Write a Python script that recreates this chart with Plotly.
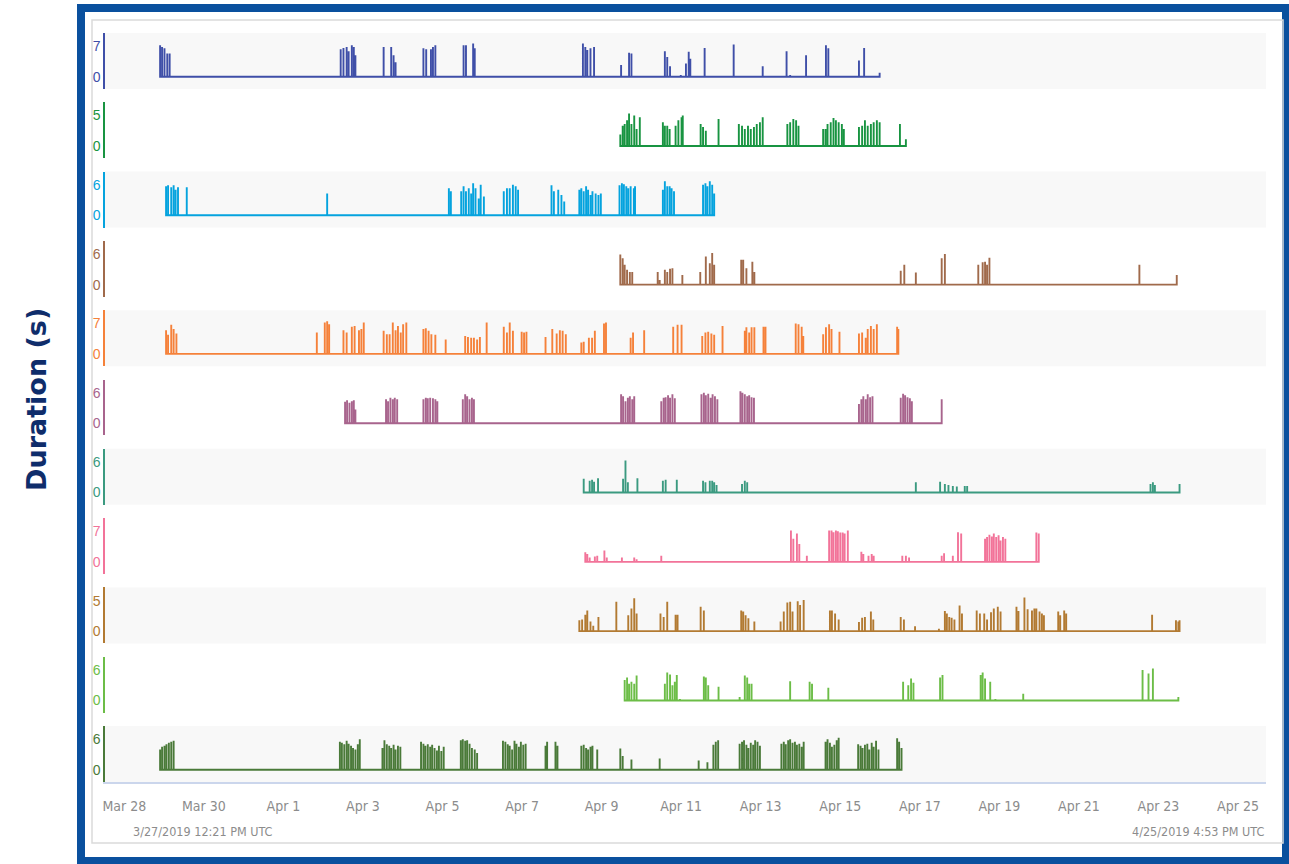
import pandas as pd
import plotly.graph_objects as go
from plotly.subplots import make_subplots

# time axis: spike times are in days after 2019-03-28 00:00 UTC
ORIGIN = "2019-03-28"
RANGE_START = "2019-03-27 12:21"
RANGE_END = "2019-04-25 16:53"
START_LABEL = "3/27/2019 12:21 PM UTC"
END_LABEL = "4/25/2019 4:53 PM UTC"

colors = ["#3f4fa8", "#189441", "#05a3de", "#a06a4b", "#f5813a", "#a8648d",
          "#3b9a80", "#f27399", "#b27a32", "#6cbd47", "#4a7a39"]
tick_max = [7, 5, 6, 6, 7, 6, 6, 7, 5, 6, 6]

s1_days = [0.90, 0.95, 1.01, 1.08, 1.14, 5.44, 5.51, 5.59, 5.64, 5.72, 5.77, 5.81,
           6.52, 6.71, 6.77, 6.82, 7.52, 7.59, 7.71, 7.76, 7.82, 8.53, 8.59, 8.77, 8.81,
           11.53, 11.59, 11.64, 11.72, 11.81, 12.49, 12.69, 12.75, 13.59, 13.65, 13.72,
           13.99, 14.12, 14.19, 14.23, 14.59, 15.32, 16.05, 16.65, 16.74, 17.14,
           17.64, 17.70, 18.47, 18.60, 18.99]
s1_vals = [7.2, 6.8, 6.5, 5.3, 5.3, 6.3, 6.6, 6.8, 5.8, 7.2, 6.8, 4.9,
           6.8, 6.8, 4.9, 3.3, 6.5, 6.3, 6.3, 6.8, 7.2, 7.2, 7.2, 7.6, 6.5,
           7.6, 6.8, 6.1, 6.5, 6.8, 2.7, 5.5, 5.3, 5.8, 4.5, 2.4,
           0.4, 3.0, 5.7, 4.1, 6.6, 7.4, 2.4, 5.8, 0.4, 4.9,
           7.2, 6.5, 3.7, 6.6, 0.9]

s2_days = [12.47, 12.53, 12.58, 12.64, 12.69, 12.75, 12.82, 12.88, 12.96,
           13.54, 13.59, 13.65, 13.71, 13.86, 13.93, 14.01, 14.04, 14.49, 14.55, 14.62,
           14.94, 15.45, 15.53, 15.60, 15.68, 15.75, 15.83, 15.90, 15.98, 16.05,
           16.67, 16.74, 16.82, 16.89, 16.95,
           17.57, 17.63, 17.68, 17.76, 17.83, 17.89, 17.96, 18.04, 18.09,
           18.47, 18.55, 18.62, 18.69, 18.77, 18.84, 18.92, 18.99, 19.50, 19.65]
s2_vals = [1.9, 3.3, 3.6, 4.2, 5.3, 3.6, 5.0, 2.8, 4.7,
           3.9, 3.3, 3.3, 2.8, 3.3, 4.2, 4.7, 5.0, 3.6, 3.1, 2.5,
           4.4, 3.6, 3.3, 2.8, 3.3, 2.8, 3.1, 3.6, 3.9, 4.7,
           3.6, 3.9, 4.4, 4.2, 3.3,
           2.8, 2.8, 3.6, 3.9, 4.6, 4.2, 3.9, 3.6, 2.8,
           3.1, 3.3, 4.2, 3.3, 3.6, 3.9, 4.2, 3.9, 3.6, 1.1]

s3_days = [1.05, 1.10, 1.18, 1.24, 1.29, 1.35, 1.57, 5.10, 8.16, 8.21,
           8.47, 8.53, 8.59, 8.66, 8.72, 8.77, 8.83, 8.91, 8.96, 9.04,
           9.54, 9.62, 9.69, 9.77, 9.84, 9.90, 10.74, 10.80, 10.91, 10.99, 11.06,
           11.44, 11.49, 11.55, 11.61, 11.66, 11.72, 11.77, 11.85, 11.92, 11.98,
           12.45, 12.51, 12.56, 12.62, 12.67, 12.73, 12.81, 12.84,
           13.54, 13.59, 13.65, 13.71, 13.76, 13.82,
           14.55, 14.61, 14.66, 14.72, 14.78, 14.83]
s3_vals = [5.7, 5.9, 5.5, 5.9, 5.0, 5.5, 5.5, 4.3, 5.3, 4.7,
           4.7, 5.7, 4.7, 5.3, 4.3, 6.3, 5.3, 3.3, 6.0, 3.7,
           4.7, 5.3, 5.3, 6.0, 5.7, 5.0, 5.9, 4.7, 5.0, 4.0, 2.7,
           5.0, 5.3, 4.7, 5.7, 5.0, 4.0, 4.7, 4.3, 4.0, 4.3,
           5.9, 6.3, 6.1, 5.7, 5.3, 5.7, 5.3, 5.7,
           5.0, 6.7, 5.7, 5.7, 5.3, 4.7,
           6.0, 6.3, 5.7, 6.7, 6.0, 4.3]

s4_days = [12.47, 12.53, 12.58, 12.64, 12.71, 12.77, 13.41, 13.46, 13.59, 13.65, 13.72, 13.78,
           14.03, 14.48, 14.62, 14.72, 14.78, 14.83, 15.51, 15.56, 15.64, 15.79, 15.84,
           19.52, 19.61, 19.90, 20.55, 20.63, 21.47, 21.58, 21.64, 21.69, 21.75,
           25.52, 26.46]
s4_vals = [5.9, 5.2, 3.9, 2.9, 2.5, 2.5, 2.5, 0.9, 2.9, 2.5, 3.1, 3.2,
           1.9, 2.5, 5.5, 4.2, 6.2, 3.9, 4.9, 4.9, 3.2, 4.5, 2.5,
           2.7, 3.9, 2.4, 5.2, 6.0, 3.9, 4.4, 4.5, 3.9, 5.3,
           3.9, 1.9]

s5_days = [1.05, 1.10, 1.18, 1.24, 1.31, 4.84, 5.04, 5.10, 5.15, 5.51, 5.59, 5.72, 5.79,
           5.90, 5.96, 6.02, 6.52, 6.60, 6.67, 6.75, 6.82, 6.88, 6.95, 7.01, 7.09,
           7.52, 7.58, 7.65, 7.72, 7.82, 8.08, 8.57, 8.64, 8.72, 8.79, 8.87, 8.94, 9.11,
           9.54, 9.62, 9.69, 9.77, 9.99, 10.05, 10.11, 10.59, 10.76,
           10.87, 10.95, 11.02, 11.10, 11.49, 11.55, 11.68, 11.76, 11.83, 12.06, 12.11,
           12.73, 12.79, 13.07, 13.80, 13.91, 14.01, 14.53, 14.61, 14.68, 14.76, 14.83,
           15.04, 15.60, 15.64, 15.71, 15.77, 15.84, 16.07, 16.12,
           16.88, 16.95, 17.03, 17.07, 17.57, 17.64, 17.72, 17.78, 17.98,
           18.47, 18.55, 18.64, 18.69, 18.77, 18.84, 18.92, 19.43, 19.46]
s5_vals = [5.4, 4.4, 6.7, 5.7, 4.7, 4.9, 7.2, 7.5, 6.8, 5.4, 4.9, 6.2, 6.4,
           5.4, 5.7, 7.2, 5.3, 4.5, 4.5, 7.2, 5.4, 6.4, 4.9, 6.8, 7.2,
           5.7, 5.9, 5.3, 4.5, 4.4, 3.3, 4.1, 3.9, 3.7, 3.7, 3.3, 3.9, 7.2,
           6.2, 4.9, 7.2, 5.3, 5.1, 4.9, 5.1, 3.9, 5.7,
           4.7, 5.4, 5.3, 4.5, 2.6, 2.8, 3.7, 3.7, 5.3, 7.0, 7.2,
           3.7, 4.9, 5.4, 6.2, 6.7, 6.7, 4.1, 4.9, 5.1, 4.7, 4.4,
           6.4, 5.3, 6.1, 4.9, 6.1, 6.1, 6.2, 6.2,
           7.0, 6.8, 6.2, 4.1, 4.5, 6.1, 6.8, 5.7, 5.1,
           4.7, 4.9, 3.7, 5.7, 6.4, 5.7, 6.8, 6.2, 5.7]

s6_days = [5.55, 5.60, 5.66, 5.72, 5.77, 5.81, 6.58, 6.63, 6.69, 6.75, 6.80, 6.86,
           7.52, 7.58, 7.63, 7.69, 7.76, 7.82, 7.87, 8.51, 8.57, 8.62, 8.68, 8.74, 8.79,
           12.49, 12.54, 12.60, 12.66, 12.71, 12.77, 12.82,
           13.50, 13.56, 13.61, 13.67, 13.72, 13.78, 13.84,
           14.51, 14.57, 14.62, 14.68, 14.74, 14.79, 14.85, 14.91,
           15.49, 15.54, 15.60, 15.66, 15.71, 15.77, 15.83,
           18.47, 18.53, 18.58, 18.64, 18.69, 18.75, 18.81,
           19.52, 19.58, 19.63, 19.69, 19.75, 19.80, 20.55]
s6_vals = [4.2, 4.5, 4.0, 4.3, 4.5, 2.7, 4.7, 4.3, 5.0, 4.7, 5.0, 4.7,
           4.7, 5.0, 4.9, 5.0, 4.9, 4.7, 4.3, 4.7, 5.7, 5.3, 4.7, 5.0, 4.7,
           5.7, 5.3, 4.3, 5.0, 5.3, 4.7, 5.3,
           4.3, 5.0, 5.1, 5.5, 5.0, 5.7, 4.9,
           5.7, 6.0, 5.5, 5.8, 5.0, 5.7, 5.3, 4.7,
           6.3, 6.0, 5.7, 5.3, 5.5, 5.1, 5.0,
           3.8, 4.7, 5.3, 4.7, 5.7, 5.1, 5.3,
           5.0, 5.8, 5.5, 5.1, 4.9, 4.3, 4.7]

s7_days = [11.55, 11.70, 11.76, 11.81, 11.91, 12.54, 12.60, 12.66, 12.90, 13.54, 13.61,
           13.89, 14.55, 14.61, 14.72, 14.78, 14.83, 14.89, 15.53, 15.60, 15.66, 19.90,
           20.51, 20.63, 20.72, 20.83, 20.93, 21.13, 21.19, 25.80, 25.86, 25.91, 26.53]
s7_vals = [2.7, 2.3, 2.5, 2.1, 2.8, 2.7, 6.3, 2.0, 2.8, 2.3, 2.5,
           2.5, 2.3, 2.0, 2.3, 2.3, 2.0, 1.5, 1.7, 2.3, 2.0, 2.0,
           2.1, 1.7, 1.5, 1.3, 1.2, 1.3, 1.3, 1.7, 2.0, 1.5, 1.7]

s8_days = [11.59, 11.64, 11.70, 11.83, 11.89, 12.07, 12.13, 12.51, 12.82, 12.88, 13.50,
           16.76, 16.82, 16.91, 16.97, 17.16,
           17.72, 17.78, 17.83, 17.89, 17.94, 18.00, 18.06, 18.11, 18.19,
           18.53, 18.58, 18.71, 18.79, 18.84, 19.56, 19.65, 19.73, 20.55, 20.61, 20.83,
           20.96, 21.04, 21.64, 21.69, 21.75, 21.81, 21.86, 21.92, 21.98, 22.03, 22.09, 22.15,
           22.93, 22.99]
s8_vals = [2.2, 1.8, 1.0, 1.2, 1.4, 2.6, 1.0, 1.0, 1.0, 0.6, 1.4,
           7.2, 5.3, 6.5, 4.1, 1.4,
           7.2, 7.2, 6.8, 7.2, 7.0, 6.7, 6.7, 6.5, 7.2,
           2.3, 1.8, 1.4, 1.8, 1.4, 1.4, 1.4, 1.0, 1.4, 2.0, 1.4,
           6.8, 6.5, 5.3, 5.7, 6.2, 5.8, 6.5, 5.7, 6.1, 4.9, 5.7, 5.3,
           6.7, 6.5]

s9_days = [11.44, 11.51, 11.59, 11.64, 11.72, 11.79, 11.92, 12.37, 12.67, 12.75, 12.82, 12.88,
           13.48, 13.56, 13.65, 13.86, 13.91, 14.49, 14.57, 15.51, 15.56, 15.62, 15.69, 15.84,
           16.50, 16.58, 16.67, 16.74, 16.80, 16.93, 16.99, 17.08, 17.74, 17.79, 17.87, 17.96,
           18.47, 18.55, 18.62, 18.77, 18.83, 19.52, 19.60, 19.88, 20.48,
           20.63, 20.68, 20.74, 20.80, 20.87, 21.00, 21.06, 21.43, 21.51, 21.62, 21.69,
           21.79, 21.86, 21.96, 22.03, 22.43, 22.48, 22.63, 22.71,
           22.82, 22.88, 22.93, 23.01, 23.07, 23.12, 23.48, 23.53, 23.63, 23.68,
           25.84, 26.44, 26.50, 26.53]
s9_vals = [1.8, 1.9, 2.7, 3.4, 1.6, 0.9, 2.3, 4.8, 2.6, 3.7, 5.4, 2.9,
           2.9, 2.3, 4.8, 2.7, 2.7, 4.0, 3.4, 3.4, 3.2, 2.6, 2.1, 1.6,
           1.6, 3.2, 4.7, 4.8, 3.2, 4.9, 4.3, 5.1, 3.4, 3.4, 2.9, 1.9,
           1.5, 2.2, 2.3, 3.2, 1.9, 2.3, 1.9, 0.8, 0.4,
           3.3, 2.9, 2.3, 2.2, 1.9, 4.2, 2.9, 3.4, 2.9, 2.9, 1.9,
           3.1, 3.7, 4.0, 3.2, 4.0, 3.3, 5.5, 3.6,
           3.4, 3.7, 3.7, 3.2, 2.9, 2.6, 3.2, 2.6, 3.4, 2.9,
           2.7, 1.8, 1.6, 1.8]

s10_days = [12.58, 12.64, 12.69, 12.75, 12.82, 12.88, 13.59, 13.65, 13.72, 13.78, 13.84, 13.89,
            13.97, 14.57, 14.62, 14.68, 14.94, 15.47, 15.60, 15.66, 15.71, 15.77,
            16.74, 17.10, 17.23, 17.29, 17.70, 18.77, 19.58, 19.71, 19.78, 19.84,
            20.51, 20.57, 21.53, 21.58, 21.64, 21.77, 21.90, 22.60, 25.60, 25.75, 25.86, 26.50]
s10_vals = [4.0, 4.5, 3.3, 3.7, 3.3, 4.9, 3.3, 5.5, 5.1, 3.0, 3.7, 5.0,
            0.3, 4.7, 4.5, 3.0, 2.7, 0.7, 4.9, 4.5, 3.3, 3.3,
            3.8, 0.2, 3.7, 3.3, 2.5, 0.2, 3.7, 3.0, 4.3, 3.5,
            4.5, 5.0, 5.0, 5.5, 4.3, 3.7, 0.3, 1.3, 6.0, 5.3, 6.3, 0.7]

s11_days = [0.90, 0.95, 1.01, 1.06, 1.12, 1.18, 1.24,
            5.42, 5.47, 5.53, 5.59, 5.64, 5.70, 5.75, 5.81, 5.87, 5.92,
            6.49, 6.54, 6.60, 6.66, 6.71, 6.77, 6.82, 6.88, 6.94,
            7.46, 7.52, 7.57, 7.63, 7.69, 7.74, 7.80, 7.86, 7.91, 7.97, 8.03,
            8.46, 8.51, 8.57, 8.62, 8.68, 8.74, 8.81, 8.87,
            9.52, 9.58, 9.64, 9.69, 9.75, 9.81, 9.86, 9.92, 9.97, 10.03, 10.09,
            10.59, 10.63, 10.84, 10.89, 11.49, 11.55, 11.61, 11.66, 11.72, 11.77, 11.89,
            12.47, 12.53, 12.75, 13.46, 14.44, 14.66, 14.81, 14.87, 14.93,
            15.47, 15.53, 15.58, 15.64, 15.69, 15.75, 15.81, 15.86, 15.92, 15.98,
            16.52, 16.58, 16.63, 16.69, 16.74, 16.80, 16.86, 16.91, 16.97, 17.03, 17.08,
            17.63, 17.68, 17.74, 17.79, 17.85, 17.91, 17.96,
            18.45, 18.51, 18.56, 18.62, 18.68, 18.73, 18.79, 18.84, 18.90, 18.96,
            19.43, 19.48, 19.54]
s11_vals = [4.0, 4.5, 4.7, 5.0, 5.3, 5.5, 5.7,
            5.5, 5.3, 5.0, 5.7, 5.1, 4.7, 4.3, 4.0, 5.0, 6.0,
            4.3, 5.8, 5.0, 4.7, 4.3, 4.9, 4.0, 4.7, 4.5,
            5.5, 5.1, 4.7, 5.0, 4.5, 4.9, 4.3, 3.8, 4.7, 3.7, 4.5,
            5.8, 6.0, 5.7, 5.8, 5.1, 4.3, 4.0, 3.3,
            5.7, 5.5, 5.0, 4.7, 4.0, 5.7, 5.1, 4.5, 5.5, 4.9, 5.1,
            4.7, 5.5, 5.5, 4.7, 4.7, 4.9, 4.3, 4.0, 4.5, 4.7, 4.0,
            4.2, 2.7, 2.0, 2.2, 1.8, 1.5, 4.9, 5.5, 5.8,
            5.1, 5.5, 5.8, 4.9, 4.3, 5.3, 4.9, 5.8, 5.5, 4.7,
            5.1, 5.5, 5.0, 5.8, 6.0, 5.3, 5.5, 4.9, 5.1, 4.5, 5.5,
            5.5, 6.0, 5.3, 4.5, 4.9, 5.8, 6.3,
            5.0, 4.7, 4.3, 4.9, 5.1, 4.0, 5.3, 4.5, 5.7, 4.0,
            6.2, 5.5, 4.3]

series = [(s1_days, s1_vals), (s2_days, s2_vals), (s3_days, s3_vals), (s4_days, s4_vals),
          (s5_days, s5_vals), (s6_days, s6_vals), (s7_days, s7_vals), (s8_days, s8_vals),
          (s9_days, s9_vals), (s10_days, s10_vals), (s11_days, s11_vals)]

# plot area in pixels (page 1289 x 864)
L, R, T, B = 105, 1266, 33, 782
W, H = R - L, B - T
def px(x): return (x - L) / W
def py(y): return (B - y) / H

n = len(series)
fig = make_subplots(rows=n, cols=1, shared_xaxes=True, vertical_spacing=0.0179)

origin = pd.Timestamp(ORIGIN)
tick_font = "Liberation Sans Narrow, DejaVu Sans Condensed, Arial, sans-serif"
for i, (days, vals) in enumerate(series):
    r = i + 1
    # each duration is drawn as a spike rising from a zero baseline
    xs, ys = [], []
    for d, v in zip(days, vals):
        t = origin + pd.to_timedelta(d, unit="D")
        xs += [t, t, t]
        ys += [0, v, 0]
    fig.add_trace(go.Scatter(x=xs, y=ys, mode="lines", line=dict(color=colors[i], width=1.9),
                             showlegend=False, hoverinfo="skip"), row=r, col=1)
    m = tick_max[i]
    fig.update_yaxes(range=[-0.4 * m, 1.43 * m], tickvals=[0, m], ticktext=["0", str(m)],
                     tickfont=dict(color=colors[i], size=14, family="Liberation Sans, Arial, sans-serif"),
                     showgrid=False, zeroline=False, showline=True, linecolor=colors[i],
                     linewidth=1.5, ticks="", fixedrange=True, row=r, col=1)
    if r % 2 == 1:
        suffix = "" if r == 1 else str(r)
        fig.add_shape(type="rect", xref=f"x{suffix} domain", yref=f"y{suffix} domain",
                      x0=0, x1=1, y0=0, y1=1, fillcolor="#f8f8f8", line_width=0, layer="below")

fig.update_xaxes(range=[RANGE_START, RANGE_END], showgrid=False, zeroline=False,
                 showline=False, showticklabels=False)
fig.update_xaxes(showline=True, linecolor="#cbd6ec", linewidth=1.5, showticklabels=True,
                 tick0=ORIGIN, dtick=2 * 86400000, tickformat="%b %-d", ticks="",
                 ticklabelstandoff=10,
                 tickfont=dict(color="#8c8c8c", size=14, family=tick_font), row=n, col=1)

# frame: outer blue border and inner grey card
fig.add_shape(type="rect", xref="paper", yref="paper", x0=px(81), x1=px(1286), y0=py(861), y1=py(8),
              line=dict(color="#0a509e", width=8), layer="below")
fig.add_shape(type="rect", xref="paper", yref="paper", x0=px(92), x1=px(1283), y0=py(843), y1=py(20),
              line=dict(color="#dadada", width=1.5), layer="below")

fig.add_annotation(text="<b>Duration (s)</b>", xref="paper", yref="paper", x=px(36), y=py(400),
                   xanchor="center", yanchor="middle", textangle=-90, showarrow=False,
                   font=dict(family="DejaVu Sans, sans-serif", size=27, color="#0f2d6b"))
fig.add_annotation(text=START_LABEL, xref="paper", yref="paper", x=px(131), y=py(832),
                   xanchor="left", yanchor="middle", showarrow=False,
                   font=dict(family=tick_font, size=12.5, color="#8c8c8c"))
fig.add_annotation(text=END_LABEL, xref="paper", yref="paper", x=px(1266), y=py(832),
                   xanchor="right", yanchor="middle", showarrow=False,
                   font=dict(family=tick_font, size=12.5, color="#8c8c8c"))

fig.update_layout(width=1289, height=864, margin=dict(l=L, r=1289 - R, t=T, b=864 - B),
                  paper_bgcolor="white", plot_bgcolor="white", showlegend=False)
# the page's default body margin would push the figure 8px right and down
fig.write_html("out.html", config={"displayModeBar": False},
               post_script="document.body.style.margin = '0';")
